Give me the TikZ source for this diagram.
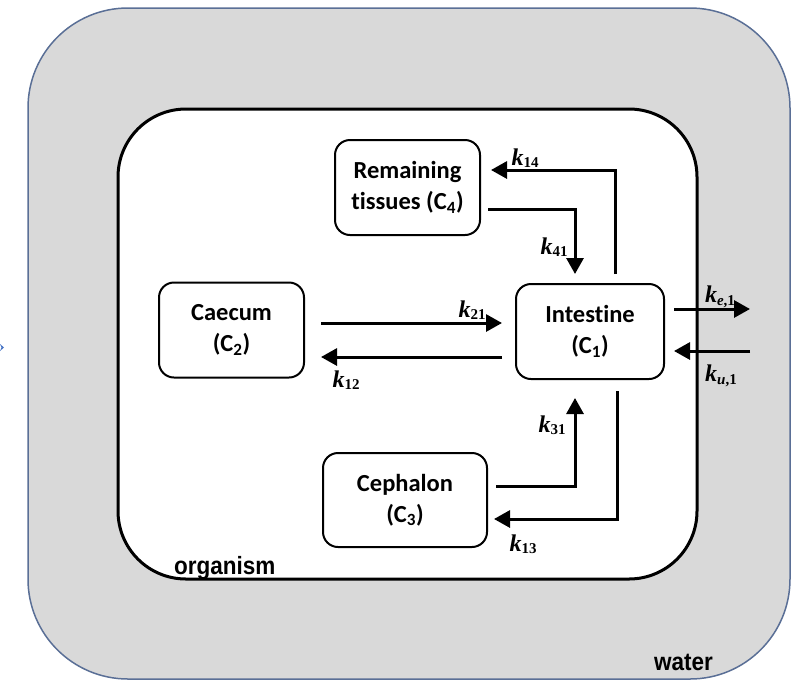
\documentclass[tikz,border=0pt]{standalone}
\usepackage{fontspec}
\usepackage{graphicx}
\usetikzlibrary{arrows.meta,calc}
\setmainfont{Liberation Serif}
\newfontfamily\boxfont[Ligatures=NoCommon]{Carlito}
\newfontfamily\tagfont{Liberation Sans}
\definecolor{watergrey}{HTML}{D9D9D9}
\definecolor{waterline}{HTML}{5A6F96}
\definecolor{markblue}{HTML}{4472C4}
% rate constant label: bold italic k with an upright bold subscript
\newcommand\rk[1]{{\fontsize{24}{24}\selectfont\bfseries\itshape k}\raisebox{-0.55ex}{\fontsize{15}{15}\selectfont\bfseries\upshape #1}}
\begin{document}
\begin{tikzpicture}[x=1pt,y=-1pt,
  compartment/.style={draw=black, line width=2pt, rounded corners=15pt, fill=white,
    align=center, inner sep=0pt, minimum width=145pt, minimum height=95pt,
    font=\boxfont\bfseries\fontsize{24.5}{31}\selectfont},
  flow/.style={line width=3pt, -{Triangle[length=16pt,width=17pt]}},
  ratelabel/.style={inner sep=0pt, anchor=center},
  tag/.style={inner sep=0pt, font=\tagfont\bfseries\fontsize{25}{25}\selectfont}]
\useasboundingbox (0,0) rectangle (792,681);

% surrounding water
\draw[waterline, line width=1.5pt, fill=watergrey, rounded corners=100pt] (28,8) rectangle (790,679);
\fill[markblue] (0,344) -- (4,347.5) -- (0,351) -- (1.5,347.5) -- cycle;

% organism boundary
\draw[black, line width=3pt, fill=white, rounded corners=68pt] (118,109) rectangle (697,579);

% compartments
\node[compartment] (R) at (407.5,187.5) {Remaining\\tissues (C\textsubscript{4})};
\node[compartment] (C2) at (231.5,330) {Caecum\\(C\textsubscript{2})};
\node[compartment, minimum width=148pt] (I) at (590,331.5) {Intestine\\(C\textsubscript{1})};
\node[compartment, minimum width=164pt, minimum height=94pt] (C3) at (405,500) {Cephalon\\(C\textsubscript{3})};

% exchange with the water
\coordinate (out) at (750,309);
\coordinate (in) at (750,351);

% transfers between compartments
\draw[flow] ($(I.north)+(25,-9)$) |- ($(R.east)+(10,-17.5)$);
\draw[flow] ($(R.east)+(7,21.5)$) -| ($(I.north)+(-15,-9)$);
\draw[flow] ($(C2.east)+(16,-7)$) -- ($(I.west)+(-13,-8.5)$);
\draw[flow] ($(I.west)+(-13,25.5)$) -- ($(C2.east)+(16,27)$);
\draw[flow] ($(C3.east)+(8,-14)$) -| ($(I.south)+(-15,18)$);
\draw[flow] ($(I.south)+(27,11)$) |- ($(C3.east)+(6,19)$);
\draw[flow] ($(I.east)+(9,-22.5)$) -- (out);
\draw[flow] (in) -- ($(I.east)+(9,19.5)$);

% rate constants
\node[ratelabel] (k14) at (525,158) {\rk{14}};
\node[ratelabel] (k41) at (554,247) {\rk{41}};
\node[ratelabel] (k21) at (472,310) {\rk{21}};
\node[ratelabel] (k12) at (346,380) {\rk{12}};
\node[ratelabel] (k31) at (552,425) {\rk{31}};
\node[ratelabel] (k13) at (523,544) {\rk{13}};
\node[ratelabel] (ke1) at (720,297) {\rk{\textit{e},1}};
\node[ratelabel] (ku1) at (721,376) {\rk{\textit{u},1}};

% region names
\node[tag, anchor=base west] (org) at (174,574) {\scalebox{0.9}[1]{organism}};
\node[tag, anchor=base west] (wat) at (654,670) {\scalebox{0.9}[1]{water}};
\end{tikzpicture}
\end{document}
